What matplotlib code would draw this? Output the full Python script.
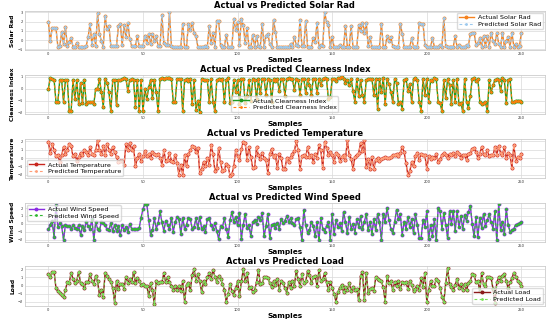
import numpy as np
import matplotlib
matplotlib.use("Agg")
import matplotlib.pyplot as plt
from matplotlib.ticker import MultipleLocator

plt.rcParams["font.family"] = ["DejaVu Sans"]

# ---- data (values are standardised) ----
solar_actual = [
    2.0, -0.1, 1.3, 1.3, 1.3, -0.7, -0.6, 0.85, -0.4, 1.4,
    -0.6, -0.2, 0.2, -0.7, -0.7, -0.3, -0.7, -0.7, -0.7, -0.7,
    -0.6, 0.3, 1.8, -0.5, 0.7, -0.6, 2.9, 0.7, -0.1, -0.7,
    2.6, 1.2, 1.5, -0.6, -0.6, -0.6, -0.6, 1.5, 1.8, -0.5,
    1.6, 0.3, 1.9, 0.1, -0.6, -0.6, -0.6, 0.4, -0.6, -0.6,
    -0.6, 0.5, -0.3, 0.7, -0.4, 0.7, -0.1, 0.4, -0.6, -0.6,
    2.7, -0.3, -0.5, -0.5, 3.0, -0.6, -0.7, -0.7, -0.7, -0.7,
    -0.7, 1.8, -0.7, -0.7, 1.7, 1.1, 1.9, 0.8, 0.4, -0.7,
    -0.7, -0.7, -0.7, -0.6, -0.7, 1.5, -0.3, 0.8, -0.7, 2.1,
    2.1, -0.5, -0.7, -0.7, 0.6, -0.7, -0.7, -0.7, 2.3, 1.1,
    2.0, -0.5, 2.3, 1.6, -0.3, 1.3, -0.7, -0.7, 0.6, -0.7,
    0.4, -0.6, -0.7, 1.8, -0.7, 0.5, 0.7, -0.4, -0.7, 2.2,
    0.9, -0.7, -0.7, -0.7, -0.7, -0.7, -0.7, -0.7, -0.4, -0.7,
    0.3, -0.5, -0.6, 2.2, -0.6, -0.6, 2.1, -0.7, -0.7, -0.7,
    0.2, -0.2, 1.9, -0.7, -0.5, -0.6, 3.0, 2.0, 1.6, -0.7,
    0.3, -0.7, -0.7, -0.7, -0.5, -0.7, -0.7, 1.5, -0.7, -0.7,
    1.5, -0.7, -0.7, -0.7, 1.6, 1.0, 1.9, 0.8, 1.9, -0.6,
    0.3, -0.7, -0.7, -0.7, -0.7, -0.7, 1.8, -0.7, -0.7, 0.4,
    -0.1, 0.3, -0.6, -0.7, -0.7, -0.7, 1.8, 0.7, -0.7, -0.7,
    -0.7, -0.7, 0.2, -0.7, -0.7, -0.7, 1.9, 1.7, 1.8, -0.5,
    -0.7, -0.7, -0.7, 0.2, -0.7, -0.7, -0.7, -0.5, -0.7, 2.4,
    -0.6, -0.7, -0.7, -0.7, -0.7, 0.4, -0.7, -0.5, -0.7, -0.7,
    -0.7, -0.5, -0.6, 0.7, 0.8, 0.8, -0.5, -0.3, 0.2, -0.7,
    0.4, -0.6, 0.4, -0.7, 0.8, -0.1, -0.4, 0.8, -0.4, -0.7,
    0.8, -0.7, -0.1, 0.3, -0.7, 0.8, -0.7, -0.4, -0.7, -0.6,
    0.8]

clear_actual = [
    0.0, 0.9, 0.8, 0.75, -1.1, -1.1, 0.7, 0.7, -1.1, 0.7,
    0.7, -1.9, -1.9, 0.7, -0.9, 0.7, -1.3, 0.5, -1.2, 0.7,
    -1.3, -1.1, -1.1, -1.1, -1.3, 0.0, 0.0, 0.8, -0.3, -1.5,
    0.8, 0.5, -0.3, -1.9, 0.7, 0.7, -1.4, 0.7, 0.7, 0.8,
    0.9, 0.8, -0.2, 0.7, 0.8, 0.7, -1.5, 0.7, -1.9, 0.7,
    -1.9, 0.0, -0.9, 0.1, 0.7, -0.8, 0.7, -0.3, -1.9, 0.8,
    0.9, 0.8, 0.9, 0.9, 0.9, 0.8, -1.1, -1.1, 0.8, 0.8,
    0.8, -1.9, 0.7, 0.8, 0.6, 0.8, -1.3, 0.7, -1.8, -1.0,
    -2.0, 0.8, 0.7, 0.7, 0.7, -1.1, 0.8, -1.1, -1.9, 0.7,
    0.8, 0.7, 0.8, -1.1, 0.7, 0.9, -1.2, -1.1, 0.7, -0.3,
    0.7, -1.3, 0.8, 0.8, -1.2, -0.6, 0.7, -1.0, 0.8, 0.7,
    -0.9, 0.8, -0.4, 0.8, 0.8, -0.5, 0.8, 0.7, -1.1,
    0.8, 0.6, 0.8, -0.2, 0.8, 0.8, -0.6, 0.8, 0.9, 0.8,
    0.8, -0.1, 0.8, 0.7, -0.5, 0.8, 0.8, -0.4, 0.8, 0.3,
    -0.5, 0.8, 0.8, -0.4, 0.8, 0.3, 0.8, 0.9, 0.8, -0.9,
    -0.7, 0.8, 0.8, 0.6, 0.9, 0.9, 1.0, 0.8, 0.5, 0.7,
    0.3, 0.8, -0.2, -1.1, 0.8, -0.6, 0.7, -0.5, -1.1, 0.7,
    0.8, 0.8, 0.8, -0.5, 0.8, -1.7, 0.8, -0.3, 0.9, -1.3,
    0.8, 0.4, -0.3, -1.1, 0.8, 0.5, -1.3, -1.1, -1.7, 0.7,
    0.8, -0.2, 0.4, -1.1, 0.8, 0.9, 0.7, -1.1, -1.9, 0.8,
    -0.5, 0.8, -1.1, 0.7, 0.6, 0.9, 0.8, -1.1, -1.2, -1.9,
    0.7, -0.8, 0.8, 0.3, -1.3, 0.7, -1.1, 0.8, -1.3, -1.2,
    -1.9, 0.8, -1.1, -1.6, -0.6, 0.8, 0.9, 0.6, 0.8, -1.1,
    -1.3, -1.2, -1.1, -1.9, 0.7, -0.3, 0.3, 0.7, 0.8, 0.7,
    -0.2, 0.9, 0.7, -1.2, 0.7, 0.8, -1.1, -1.1, -1.0, -1.0,
    -1.0, -1.1]

temp_actual = [
    1.9, 0.6, 1.7, 0.9, 0.2, 0.4, -0.5, 0.3, 1.3, 0.5,
    1.0, 1.7, 1.4, 0.2, 0.5, -0.3, 0.1, 0.6, 0.4, 0.9,
    0.7, 0.3, 1.3, 0.5, 0.4, 0.9, 2.1, 1.0, 0.5, 1.4,
    0.3, 1.7, 1.0, 0.5, 1.3, 0.7, 0.1, -0.5, -0.3, -0.3,
    -0.8, 1.7, 0.9, 1.8, 1.0, 1.4, -1.0, 0.0, 0.5, -0.3,
    0.2, 0.8, 0.2, 0.5, 0.0, 0.7, 0.5, 0.3, 0.5, 0.0,
    -0.8, 0.9, -0.3, -0.2, 0.6, -0.3, -0.5, 0.4, -0.6, -2.0,
    -0.8, -2.0, 0.3, -1.0, 0.5, 0.9, 1.4, 1.3, 0.7, 1.2,
    -1.8, -1.3, -0.5, -1.0, 0.0, -0.8, 1.5, 0.5, -1.5, -1.2,
    1.2, -0.5, -1.6, -1.4, -0.7, -1.0, -2.1, -1.9, -1.0, 0.9,
    0.2, -0.2, 1.1, 1.9, 1.8, -0.2, 1.3, 0.1, -1.2, -1.1,
    1.3, 0.3, -0.1, 0.6, 0.0, -0.2, -1.8, 0.5, 1.1, 0.1,
    0.3, -1.2, 0.5, 0.0, -1.3, -1.3, 0.0, -0.5, 0.1, 0.5,
    0.8, 2.0, 0.9, -1.3, 0.2, 0.3, 0.1, 1.3, 0.1,
    0.3, -0.5, 0.5, 0.0, 1.5, 0.9, -1.2, 1.9, 1.2, 0.4,
    0.7, 0.3, -0.5, 0.6, 0.3, -0.3, 0.1, 0.4, -0.2,
    2.1, 0.3, -0.1, -1.3, 0.1, 0.4, 0.6, 1.8, 0.8,
    2.1, -1.1, -0.1, -1.3, 0.1, -1.3, -0.2, 0.0, -0.4, -0.1,
    0.0, 0.1, 0.0, 0.0, 0.1, 0.4, 0.3, 0.5, 0.2, 0.6,
    1.3, 0.7, -0.6, -2.0, -1.6, -0.5, -1.0, 0.2, 0.6, -0.2,
    0.5, 0.4, 0.3, -1.3, 0.2, -0.1, 0.1, 0.0, 0.5, -0.5,
    -0.1, 0.3, 0.6, 0.3, 0.0, 0.5, 0.3, 0.6, 0.2, 0.7,
    0.5, 0.0, 0.4, 0.3, -0.2, 0.5, 0.6, 1.1, 1.2, 0.7,
    0.0, 0.5, 1.3, 0.5, 0.4, 0.9, 0.2, 0.4, 0.3, 1.3,
    0.4, 1.4, 0.6, 0.4, 1.3, 0.0, 0.6, 0.3, -1.2, 1.5,
    -0.3, 0.1, 0.0, 0.5]

wind_actual = [
    -0.7, -0.1, 0.4, -1.7, 2.4, -0.4, 0.1, -0.3, -2.0, -0.1,
    -0.3, -0.3, -0.6, -0.2, -0.5, -0.6, -0.2, -1.4, -0.3, -0.8,
    0.3, -0.3, -0.6, 0.6, -2.0, 0.2, -0.6, -0.8, 0.2, 0.1,
    -0.2, -0.7, -0.8, 0.1, -0.9, -0.2, -0.9, -0.3, -1.4, -0.2,
    -0.8, -0.4, -1.0, 0.0, -0.6, -0.6, -0.6, -0.6, -0.5, 0.8,
    1.9, 2.5, 2.5, 0.5, -1.4, -0.8, 0.7, -0.6, 0.1, 1.6,
    0.2, -0.9, 0.4, -0.1, -0.7, 0.8, -1.0, 0.2, 0.9, 0.6,
    -1.3, 0.8, -0.7, -0.1, 0.8, 0.6, -0.6, -0.4, 0.7, -0.5,
    0.9, -0.6, -0.3, -1.0, 0.6, 0.7, -0.2, -0.7, 0.1, -0.9,
    -1.9, -0.3, -0.4, 0.7, -0.6, -1.7, 0.5, 1.5, 0.2, 0.9,
    -0.2, 1.4, -1.9, -0.1, 1.3, -0.5, -0.1, -1.6, 0.2, 0.5,
    0.0, 0.9, 0.5, 1.4, -1.6, -0.3, 1.3, -1.8, -0.1, 0.0,
    -0.5, 0.1, -0.6, 0.6, 0.1, 0.4, 1.0, 0.3, 0.7, 0.1,
    -0.1, 0.6, 0.8, -0.4, -2.0, 1.8, -0.2, -1.1, -0.8, 0.3,
    -0.3, -1.6, 0.2, -2.1, 0.8, -0.6, -1.0, -0.3, 0.3, -2.0,
    1.2, -1.3, 0.5, -0.4, 0.1, -0.9, 1.5, 0.3, -1.2, 0.9,
    -0.6, 0.0, -1.1, 0.6, -0.4, 1.0, -0.7, 0.3, 1.2, -0.8,
    0.3, -1.3, 0.6, -0.8, 1.3, 0.2, -2.0, 1.2, 0.3, 2.0,
    0.5, -0.6, -1.2, 0.2, 1.8, 0.6, 1.2, -1.4, 0.3, -0.6,
    0.9, -0.4, 0.6, -1.2, 1.2, -0.1, -1.8, -1.8, 0.5, -0.4,
    1.6, -1.9, -0.2, -1.5, 0.6, -2.1, 2.0, 1.6, -0.6, 1.4,
    -0.1, -1.8, 1.6, 0.0, 1.6, -0.9, 1.6, -0.4, 1.0, -0.6,
    1.1, 0.4, 1.5, 2.3, 0.0, -1.6, 0.9, -1.7, 0.8, -0.5,
    1.3, -0.3, 0.5, 1.2, 0.2, -0.6, 1.6, -2.1, 2.5, -0.8,
    0.3, -1.3, 1.9, -0.1, -1.0, -0.8, -0.6, -0.1, 0.0, 0.1,
    0.2]

load_actual = [
    1.4, 1.0, 1.7, 1.7, -0.3, -0.7, -0.9, -1.1, -1.4, -0.5,
    0.4, 0.3, 1.6, 0.8, 0.3, 0.6, 1.7, 0.3, 0.2, -0.3,
    0.4, 0.4, 1.4, 0.6, 0.2, 1.2, 0.5, -1.2, -0.6, -1.4,
    1.6, 1.2, 0.8, 0.4, -0.3, -2.1, 0.6, -0.4, 0.2, 0.2,
    -0.4, 1.1, 0.3, 0.8, 0.4, 1.7, 0.3, 0.9, 0.6, 0.1,
    0.2, 0.0, 0.0, -1.3, 0.3, -0.6, -2.3, 0.6, 0.3, 0.4,
    0.4, 1.5, 0.4, 1.0, 0.4, 0.0, -0.5, -0.1, -0.6, 0.0,
    -0.7, 0.5, -2.0, 0.1, 0.3, -0.6, 1.3, 2.0, 0.6, 1.4,
    0.5, -0.8, 0.5, 0.2, 1.0, 1.5, 0.8, 1.9, 1.1, 0.4,
    1.2, 0.8, 0.2, -0.5, -2.0, -1.0, 0.2, -0.7, -1.2, -0.3,
    0.5, -1.3, 0.5, 2.0, 0.5, 1.6, -0.3, -0.2, -0.8, -0.6,
    0.4, 1.9, 0.2, 0.3, 1.0, 1.0, 0.9, 0.3, -0.2, 0.5,
    0.1, 0.8, -0.5, 0.6, 0.3, -0.3, -0.9, 0.4, -0.3, 0.6,
    0.0, 1.8, 0.8, -0.1, 1.4, 0.3, 0.5, 1.8, 1.3, 0.3,
    1.0, 1.2, -0.1, 1.9, 0.5, 0.8, 1.5, 0.4, -0.6, 0.4,
    -0.3, -1.0, -2.0, -0.8, -0.3, 0.1, -0.8, -0.2, -0.5, 0.3,
    -0.7, -0.2, -0.5, -0.4, -1.8, 1.2, 1.7, -1.8, 1.6, -0.9,
    -0.4, -0.3, -0.7, 1.0, 0.8, 0.7, 0.5, -0.2, -2.0, 1.2,
    0.3, 0.6, -0.6, 0.4, -0.1, 0.6, -0.4, 0.4, 0.3, 0.4,
    -0.4, 0.5, 0.1, -0.7, -0.4, 0.0, -0.5, 0.9, -0.2, 1.6,
    -2.0, -0.6, 0.5, 0.0, 0.0, 0.8, 0.6, -0.3, -1.4, -2.0,
    0.3, 2.1, 0.2, -0.2, -0.6, 0.1, 0.8, -0.3, 0.2, -0.6,
    0.2, -0.6, 0.3, 0.6, 1.4, 1.3, 0.4, 0.6, -0.7, 1.5,
    0.2, 0.0, 1.0, 1.1, 0.9, -0.4, -2.2, 0.4, 1.0, 0.6,
    1.2, 1.4, 0.5, -0.3, 0.4, 0.9, 1.6, 1.1, 0.6, 0.3,
    0.0]

# predictions sit on top of the actual curves in the reference
solar_pred = list(solar_actual)
clear_pred = list(clear_actual)
temp_pred = list(temp_actual)
wind_pred = list(wind_actual)
load_pred = list(load_actual)

# name, actual, predicted, actual colour, predicted colour, legend loc, ylim
panels = [
    ("Solar Rad", solar_actual, solar_pred, "#f5821f", "#9cc9ee", "upper right", (-1.1, 3.15)),
    ("Clearness Index", clear_actual, clear_pred, "#1f9a1f", "#ff7f0e", "lower center", (-2.15, 1.15)),
    ("Temperature", temp_actual, temp_pred, "#c8261e", "#ffa07a", "lower left", (-2.4, 2.3)),
    ("Wind Speed", wind_actual, wind_pred, "#8a2be2", "#32b832", "upper left", (-2.3, 2.7)),
    ("Load", load_actual, load_pred, "#8b1a1a", "#7be05a", "lower right", (-2.5, 2.35)),
]

fig, axes = plt.subplots(5, 1, figsize=(5.5, 3.23), dpi=100)
fig.subplots_adjust(left=0.045, right=0.991, top=0.966, bottom=0.053, hspace=0.62)

for ax, (name, act, pred, c_act, c_pred, loc, ylim) in zip(axes, panels):
    x = np.arange(len(act))
    ax.plot(x, act, color=c_act, linewidth=1.0, marker="o", markersize=1.8,
            label=f"Actual {name}")
    ax.plot(np.arange(len(pred)), pred, color=c_pred, linewidth=0.8,
            linestyle=(0, (2.5, 2.2)), marker="o", markersize=1.0,
            label=f"Predicted {name}")
    ax.set_xlim(-12.5, 262.5)
    ax.set_ylim(*ylim)
    ax.xaxis.set_major_locator(MultipleLocator(50))
    ax.yaxis.set_major_locator(MultipleLocator(1))
    ax.grid(True, color="#d9d9d9", linewidth=0.5)
    ax.set_axisbelow(True)
    for s in ax.spines.values():
        s.set_color("#cccccc")
        s.set_linewidth(0.6)
    ax.tick_params(axis="both", labelsize=2.6, length=0, pad=1.5, colors="#333333")
    ax.set_title(f"Actual vs Predicted {name}", fontsize=6, fontweight="bold", pad=2)
    ax.set_xlabel("Samples", fontsize=5.3, fontweight="bold", labelpad=0.5)
    ax.set_ylabel(name, fontsize=4.3, fontweight="bold", labelpad=1.5)
    ax.legend(loc=loc, fontsize=4.6, frameon=True, framealpha=0.7, edgecolor="#cccccc",
              handlelength=2.4, borderpad=0.3, labelspacing=0.2, borderaxespad=0.3,
              handletextpad=0.6)

fig.savefig("out.png", dpi=100)
